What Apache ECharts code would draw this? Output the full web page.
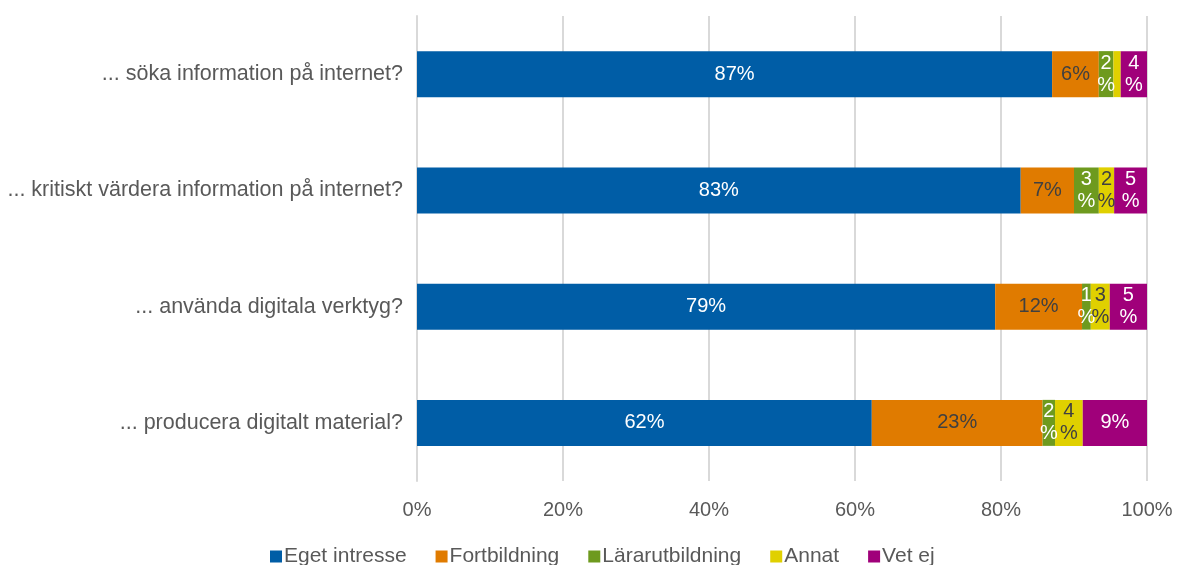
<!DOCTYPE html>
<html>
<head>
    <meta charset="utf-8">
    <title>Kompetens digitala verktyg</title>
    <script src="https://cdn.jsdelivr.net/npm/echarts@6/dist/echarts.min.js"></script>
    <style>
        html, body {margin: 0; padding: 0; background: #fff;}
        #main {width: 1181px; height: 565px;}
    </style>
</head>
<body>
<div id="main"></div>
<script>
    // kategorier (uppifrån och ned)
    var categories = [
        '... söka information på internet?',
        '... kritiskt värdera information på internet?',
        '... använda digitala verktyg?',
        '... producera digitalt material?'
    ];
    var seriesNames = ['Eget intresse', 'Fortbildning', 'Lärarutbildning', 'Annat', 'Vet ej'];
    var egetIntresse = [87.0, 82.7, 79.2, 62.3];
    var fortbildning = [6.4, 7.3, 11.9, 23.4];
    var lararutbildning = [2.0, 3.4, 1.2, 1.7];
    var annat = [1.0, 2.1, 2.6, 3.8];
    var vetEj = [3.6, 4.5, 5.1, 8.8];
    var xTicks = [0, 20, 40, 60, 80, 100];

    var colors = ['#005DA6', '#E07B00', '#6E9A1E', '#E0D000', '#A0007A'];
    var labelColors = ['#fff', '#404040', '#fff', '#404040', '#fff'];
    var values = [egetIntresse, fortbildning, lararutbildning, annat, vetEj];

    var myChart = echarts.init(document.getElementById('main'));

    var series = seriesNames.map(function (name, i) {
        return {
            name: name,
            type: 'bar',
            stack: 'total',
            barWidth: 46,
            data: values[i],
            itemStyle: {color: colors[i]},
            label: {
                show: true,
                position: 'inside',
                color: labelColors[i],
                fontSize: 20,
                lineHeight: 22,
                formatter: function (p) {
                    if (p.value < 1.1) return '';
                    var r = Math.round(p.value);
                    return p.value < 6 ? r + '\n%' : r + '%';
                }
            }
        };
    });

    myChart.setOption({
        animation: false,
        textStyle: {fontFamily: 'Liberation Sans, Arial, sans-serif'},
        grid: {left: 417, right: 34, top: 16, bottom: 84, containLabel: false},
        legend: {
            data: seriesNames,
            bottom: -7,
            left: 265,
            itemWidth: 12,
            itemHeight: 12,
            itemGap: 29,
            icon: 'rect',
            textStyle: {color: '#595959', fontSize: 21, padding: [0, 0, 0, -3]}
        },
        xAxis: {
            type: 'value',
            min: 0,
            max: 100,
            interval: 20,
            axisLine: {show: false},
            axisTick: {show: false},
            splitLine: {lineStyle: {color: '#d9d9d9', width: 2}},
            axisLabel: {
                color: '#595959',
                fontSize: 20,
                margin: 19,
                formatter: function (v) {
                    return xTicks.indexOf(v) >= 0 ? v + '%' : '';
                }
            }
        },
        yAxis: {
            type: 'category',
            inverse: true,
            data: categories,
            axisLine: {show: true, lineStyle: {color: '#d9d9d9', width: 2}},
            axisTick: {show: false},
            axisLabel: {color: '#595959', fontSize: 21.5, margin: 14}
        },
        series: series
    });
</script>
</body>
</html>
